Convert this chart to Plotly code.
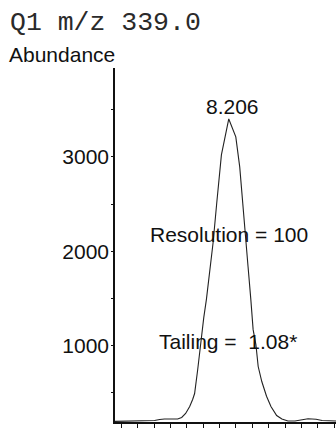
import plotly.graph_objects as go

# Extracted ion chromatogram, Q1 m/z 339.0
time_min = [7.507, 7.660, 7.752, 7.783, 7.813, 7.893, 7.918, 7.942, 7.967, 7.985,
            7.997, 8.016, 8.038, 8.053, 8.069, 8.110, 8.132, 8.161, 8.206, 8.249,
            8.273, 8.304, 8.324, 8.341, 8.355, 8.372, 8.386, 8.408, 8.437, 8.464,
            8.499, 8.531, 8.568, 8.611, 8.654, 8.691, 8.740, 8.777, 8.863]
abundance = [196, 201, 206, 217, 222, 222, 238, 280, 354, 429,
             492, 746, 1106, 1296, 1487, 2090, 2503, 3021, 3402, 3212,
             2894, 2302, 1836, 1487, 1169, 1011, 778, 619, 463, 354,
             259, 222, 201, 201, 217, 224, 219, 206, 201]

peak_rt = 8.206
peak_height = 3402
y_ticks = [1000, 2000, 3000]
title_text = "Q1 m/z 339.0"
y_title = "Abundance"
resolution_text = "Resolution = 100"
tailing_text = "Tailing =\u00a0\u00a01.08*"

SANS = "Liberation Sans, Arial, Helvetica, sans-serif"
MONO = "Liberation Mono, Courier New, monospace"

fig = go.Figure()
fig.add_trace(go.Scatter(
    x=time_min, y=abundance, mode="lines",
    line=dict(color="#222222", width=1.1),
    hoverinfo="skip", showlegend=False,
))

fig.update_layout(
    width=336, height=428,
    margin=dict(l=115, r=0, t=68, b=6),
    paper_bgcolor="white", plot_bgcolor="white",
    font=dict(family=SANS, size=21, color="#111111"),
    xaxis=dict(
        range=[7.510, 8.862], showgrid=False, zeroline=False,
        showline=True, linecolor="#111111", linewidth=1.5,
        ticks="outside", ticklen=6, tickwidth=1, tickcolor="#111111",
        tick0=7.55, dtick=0.1, showticklabels=False,
    ),
    yaxis=dict(
        range=[190, 3942], showgrid=False, zeroline=False,
        showline=True, linecolor="#111111", linewidth=1.5,
        ticks="outside", ticklen=2, tickwidth=1, tickcolor="#111111",
        tickvals=y_ticks, ticktext=[str(v) for v in y_ticks],
        ticklabelstandoff=-2,
        tickfont=dict(family=SANS, size=21, color="#111111"),
        minor=dict(ticks="outside", ticklen=2, dtick=500, tickcolor="#111111"),
    ),
)

fig.add_annotation(
    text=title_text, xref="paper", yref="paper", x=-0.484, y=1.127,
    xanchor="left", yanchor="middle", showarrow=False,
    font=dict(family=MONO, size=26.5, color="#2a2a2a"),
)
fig.add_annotation(
    text=y_title, xref="paper", yref="paper", x=-0.488, y=1.037,
    xanchor="left", yanchor="middle", showarrow=False,
    font=dict(family=SANS, size=21, color="#111111"),
)
fig.add_annotation(
    text=f"{peak_rt:.3f}", x=peak_rt, y=peak_height, xshift=4, yshift=-1,
    xanchor="center", yanchor="bottom", showarrow=False,
    font=dict(family=SANS, size=21, color="#111111"),
)
fig.add_annotation(
    text=resolution_text, x=7.709, y=2175,
    xanchor="left", yanchor="middle", showarrow=False,
    font=dict(family=SANS, size=21, color="#111111"),
)
fig.add_annotation(
    text=tailing_text, x=7.764, y=1042,
    xanchor="left", yanchor="middle", showarrow=False,
    font=dict(family=SANS, size=21, color="#111111"),
)

fig.write_html("out.html")
